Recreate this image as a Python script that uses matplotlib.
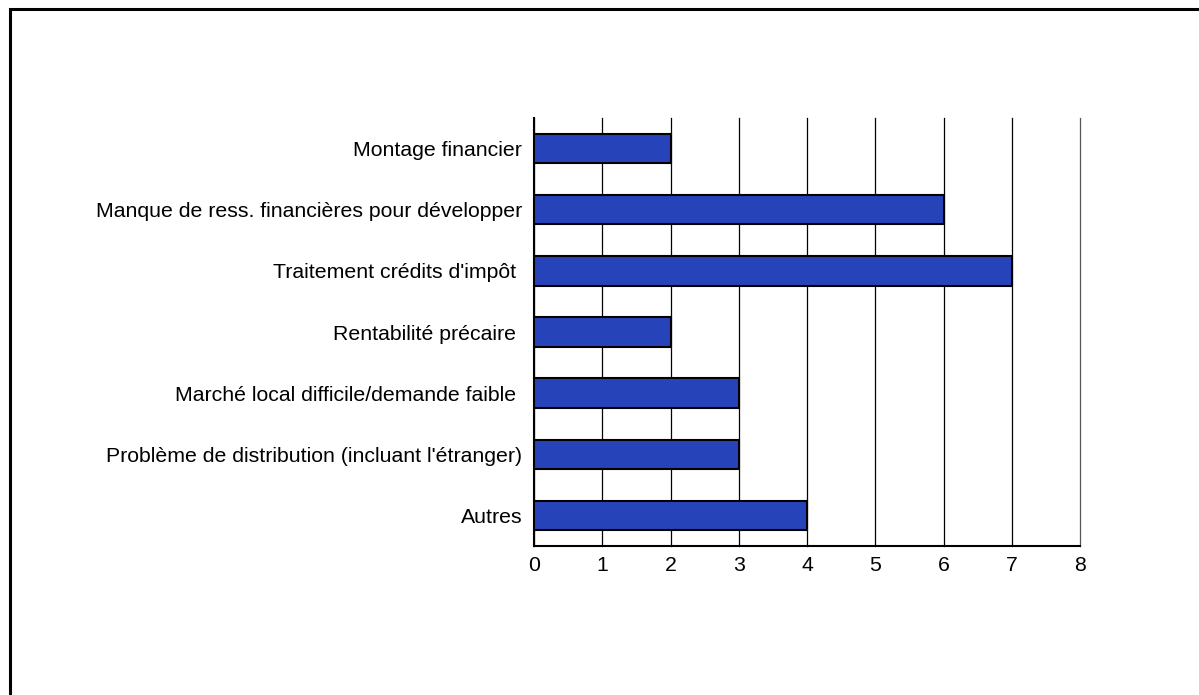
import matplotlib.pyplot as plt
import matplotlib.patches as patches

plt.rcParams['font.family'] = ['Liberation Sans', 'DejaVu Sans']

categories = ["Montage financier",
              "Manque de ress. financières pour développer",
              "Traitement crédits d'impôt ",
              "Rentabilité précaire ",
              "Marché local difficile/demande faible ",
              "Problème de distribution (incluant l'étranger)",
              "Autres"]
values = [2, 6, 7, 2, 3, 3, 4]
xticks = [0, 1, 2, 3, 4, 5, 6, 7, 8]

fig = plt.figure(figsize=(11.99, 6.95), dpi=100)

# outer frame (only top and left edges fall inside the picture)
frame = patches.Rectangle((10/1199, -0.1), 1.2, (695-9)/695 + 0.1, transform=fig.transFigure,
                          fill=False, edgecolor='black', linewidth=2.2)
fig.patches.append(frame)

ax = fig.add_axes([534/1199, 149/695, 546/1199, 428/695])
ypos = list(range(len(categories)))
ax.barh(ypos, values, height=0.48, color='#2643B9', edgecolor='black', linewidth=1.5, zorder=3)

ax.set_xlim(0, 8)
ax.set_ylim(len(categories) - 0.5, -0.5)
ax.set_xticks(xticks)
ax.set_yticks(ypos)
ax.set_yticklabels(categories, fontsize=15.3)
ax.tick_params(axis='y', length=0, pad=8.5)
ax.tick_params(axis='x', length=0, pad=7, labelsize=15.3)
ax.grid(axis='x', color='black', linewidth=0.9, zorder=0)
for gl in ax.get_xgridlines():
    gl.set_clip_on(False)
ax.get_xgridlines()[-1].set_color('#555555')

ax.spines['top'].set_visible(False)
ax.spines['right'].set_visible(False)
ax.spines['left'].set_linewidth(1.5)
ax.spines['bottom'].set_linewidth(1.5)

fig.savefig('out.png', dpi=100)
